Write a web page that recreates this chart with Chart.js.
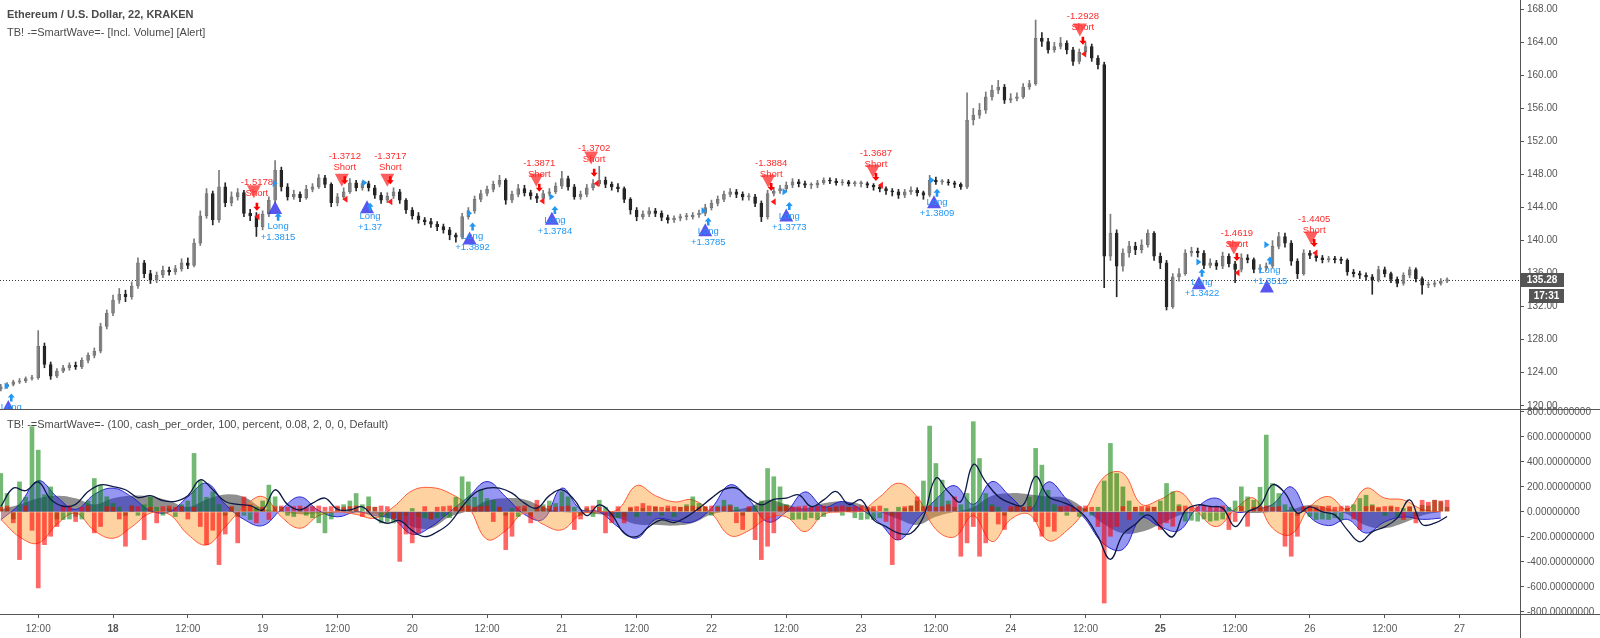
<!DOCTYPE html>
<html>
<head>
<meta charset="utf-8">
<title>ETHUSD SmartWave</title>
<script src="https://cdn.jsdelivr.net/npm/chart.js@4.4.1/dist/chart.umd.min.js"></script>
<style>
  html, body { margin: 0; padding: 0; background: #fff; }
  #wrap { position: relative; width: 1600px; height: 638px; overflow: hidden; }
  canvas { position: absolute; left: 0; }
  #priceCanvas { top: 0; }
  #waveCanvas { top: 398px; }
  .legend { position: absolute; left: 7px; font-size: 11px; font-family: "Liberation Sans", Arial, sans-serif; color: #4a4a4a; white-space: nowrap; line-height: 13px; }
</style>
</head>
<body>
<div id="wrap">
  <canvas id="priceCanvas" width="1600" height="420"></canvas>
  <canvas id="waveCanvas" width="1600" height="240"></canvas>
  <div class="legend" style="top:8px;font-weight:bold">Ethereum / U.S. Dollar, 22, KRAKEN</div>
  <div class="legend" style="top:26px">TB! -=SmartWave=- [Incl. Volume] [Alert]</div>
  <div class="legend" style="top:418px">TB! -=SmartWave=- (100, cash_per_order, 100, percent, 0.08, 2, 0, 0, Default)</div>
</div>
<script>
// hours are counted from 17 Apr 00:00, one candle per hour
const startHour = 6
const firstOpen = 122.0
const closes = [
  122.3,122.6,122.9,123.0,123.3,123.4,127.2,125.0,123.6,124.2,124.6,124.9,
  124.7,125.5,126.1,126.6,129.6,131.2,132.8,133.5,133.2,134.5,137.3,136.0,
  135.2,135.8,136.4,136.2,136.6,137.3,137.0,139.7,143.0,145.7,142.5,146.5,
  144.6,145.3,145.8,143.3,143.0,141.7,143.2,144.9,148.5,146.5,145.3,145.6,
  145.2,146.2,146.5,147.6,146.8,144.6,145.3,145.9,147.0,146.4,146.9,146.4,
  145.5,144.9,145.4,145.9,144.9,143.7,143.0,142.5,142.3,142.0,141.7,141.3,
  140.7,140.4,142.9,143.6,145.0,145.7,146.2,146.8,147.3,144.9,145.6,146.3,
  145.8,145.4,145.1,145.7,145.9,146.6,147.5,146.5,145.3,145.6,146.4,146.9,
  147.3,146.8,146.5,146.3,145.0,143.7,142.9,143.2,143.6,143.3,142.8,142.5,
  142.7,142.9,142.9,143.1,143.3,144.0,144.5,145.0,145.6,145.9,145.6,145.3,
  145.3,144.5,142.9,145.7,146.0,146.3,146.7,147.1,146.9,146.7,146.7,147.0,
  147.3,147.2,147.0,147.1,146.9,146.9,146.9,146.7,146.5,146.3,146.0,145.9,
  145.5,145.9,146.1,145.8,145.5,147.3,147.1,147.1,147.0,146.8,146.5,154.6,
  155.2,155.8,157.4,158.2,158.6,157.0,157.2,157.4,158.6,159.0,164.5,164.1,
  163.1,163.5,163.9,163.1,161.7,162.8,163.5,162.1,161.3,138.1,140.9,136.9,
  138.5,139.3,138.9,139.5,140.9,138.1,137.3,132.0,135.6,136.0,138.5,138.7,
  138.5,137.0,137.3,136.9,138.1,137.2,136.5,137.9,137.7,136.5,136.7,136.9,
  139.3,140.5,139.7,137.5,136.0,138.5,138.2,137.9,137.7,137.8,137.7,137.6,
  136.2,136.0,135.8,135.6,135.2,136.5,136.0,135.3,134.8,135.8,136.5,135.4,
  134.6,134.7,134.8,135.1,135.28
]
const highs = [
  122.6,122.8,123.1,123.3,123.5,123.7,129.1,127.6,125.3,124.5,124.9,125.2,
  125.3,125.8,126.4,127.0,130.0,131.6,133.4,134.2,134.0,135.0,137.9,137.6,
  136.4,136.2,136.9,136.8,137.0,137.8,137.9,140.2,143.6,146.3,146.0,148.5,
  147.0,145.9,146.3,146.1,143.8,143.4,143.6,145.3,149.7,148.9,146.9,146.1,
  145.9,146.7,146.9,148.0,147.9,147.0,145.7,146.4,147.5,147.3,147.2,147.2,
  146.7,145.8,145.8,146.4,146.2,145.1,144.0,143.4,142.8,142.7,142.3,142.0,
  141.6,140.9,143.3,144.0,145.4,146.1,146.6,147.2,147.9,147.5,146.0,146.8,
  146.7,146.1,145.7,146.1,146.3,147.0,148.4,147.8,146.8,146.0,146.8,147.4,
  149.0,147.7,147.1,146.9,146.5,145.2,144.0,143.6,144.0,143.9,143.6,143.1,
  143.0,143.2,143.3,143.4,143.7,144.4,144.9,145.4,146.0,146.3,146.2,145.9,
  145.7,145.6,144.8,146.1,146.4,146.7,147.1,147.5,147.4,147.2,147.0,147.3,
  147.6,147.6,147.5,147.4,147.3,147.2,147.2,147.1,146.9,146.8,146.5,146.3,
  146.2,146.2,146.5,146.4,146.0,147.9,147.7,147.4,147.4,147.2,147.0,157.9,
  156.0,156.6,158.0,158.8,159.4,158.9,157.8,157.9,159.0,159.4,166.7,165.2,
  164.5,164.0,164.6,164.2,163.4,163.2,164.0,163.8,162.4,161.6,143.2,141.3,
  139.0,139.9,139.8,140.1,141.3,141.1,138.5,137.6,136.0,136.6,138.9,139.2,
  139.1,138.8,137.8,137.6,138.6,138.4,137.5,138.4,138.3,137.9,137.1,137.3,
  140.0,141.0,140.9,140.0,137.8,138.9,138.8,138.5,138.2,138.1,138.1,138.0,
  137.8,136.5,136.3,136.1,135.9,136.9,136.8,136.2,135.6,136.1,136.8,136.7,
  135.6,135.0,135.1,135.4,135.5
]
const lows = [
  121.8,122.1,122.4,122.7,122.8,123.1,123.2,124.6,123.2,123.4,124.0,124.3,
  124.4,124.5,125.2,125.8,126.4,129.3,130.9,132.4,132.6,132.9,134.2,135.5,
  134.8,134.9,135.5,135.8,135.9,136.3,136.6,136.8,139.4,142.7,141.9,142.2,
  144.1,144.2,144.9,142.9,142.4,140.5,141.3,142.9,144.6,146.0,144.9,145.0,
  144.7,145.0,145.9,146.3,146.4,144.1,144.2,145.0,145.7,146.0,146.1,146.0,
  145.1,144.5,144.6,145.1,144.5,143.3,142.6,142.1,141.9,141.6,141.2,140.9,
  140.1,139.8,140.2,142.6,143.3,144.7,145.4,145.9,146.5,144.4,144.6,145.3,
  145.4,145.0,144.6,144.9,145.4,145.7,146.3,146.1,145.0,145.0,145.3,146.1,
  146.6,146.4,146.1,145.9,144.6,143.2,142.4,142.6,142.9,142.9,142.4,142.1,
  142.2,142.4,142.5,142.6,142.8,143.0,143.7,144.2,144.7,145.3,145.2,144.9,
  144.9,144.1,142.3,142.6,145.4,145.7,146.0,146.4,146.5,146.4,146.3,146.4,
  146.8,146.9,146.7,146.7,146.6,146.6,146.5,146.4,146.1,145.9,145.6,145.4,
  145.1,145.2,145.6,145.4,145.0,145.3,146.8,146.8,146.7,146.4,146.2,146.3,
  154.0,154.8,155.4,157.0,157.8,156.6,156.7,156.9,157.2,158.3,158.8,163.5,
  162.7,162.8,163.2,162.6,161.2,161.4,162.5,161.7,160.8,134.3,137.6,133.2,
  136.3,138.0,138.3,138.5,139.2,137.6,136.6,131.6,131.8,135.1,135.8,138.1,
  138.0,136.6,136.7,136.5,136.6,136.8,134.9,136.2,137.3,136.1,136.1,136.4,
  136.7,139.0,139.2,137.0,135.4,135.8,137.8,137.5,137.3,137.4,137.3,137.2,
  135.8,135.6,135.4,135.2,133.5,135.0,135.6,134.9,134.4,134.6,135.5,135.0,
  133.5,134.3,134.4,134.6,134.9
]
const countdown = '17:31'

// strategy signals: hour, triangle price, arrow price, label
const longT = [7.2, 50.0, 64.75, 81.2, 94.4, 119.0, 132.0, 155.7, 198.2, 209.1]
const longTriP = [119.9, 144.0, 144.1, 140.3, 142.7, 141.3, 143.1, 144.7, 134.9, 134.5]
const longArrowP = [121.0, 142.9, 144.1, 141.7, 143.7, 142.3, 144.2, 145.8, 136.1, 137.6]
const longLabels = ['', '+1.3815', '+1.37', '+1.3892', '+1.3784', '+1.3785', '+1.3773', '+1.3809', '+1.3422', '+1.3515']
const longMarkT = [7.0, 50.0, 64.4, 81.2, 94.4, 118.8, 131.8, 155.4, 198.2, 209.1]
const longMarkP = [122.4, 146.9, 147.0, 143.3, 145.3, 143.6, 145.9, 147.3, 137.4, 139.5]

const shortT = [46.6, 60.7, 68.0, 91.9, 100.7, 129.1, 145.9, 179.1, 203.8, 216.2]
const shortTriP = [145.9, 147.3, 147.3, 147.3, 150.0, 147.2, 148.4, 165.5, 139.1, 140.3]
const shortArrowP = [144.1, 147.3, 147.3, 146.4, 148.2, 146.5, 147.7, 164.2, 138.0, 139.7]
const shortLabels = ['-1.5178', '-1.3712', '-1.3717', '-1.3871', '-1.3702', '-1.3884', '-1.3687', '-1.2928', '-1.4619', '-1.4405']
const shortMarkT = [47.1, 61.2, 68.4, 92.8, 101.5, 129.9, 147.1, 179.7, 204.3, 216.8]
const shortMarkP = [142.9, 145.0, 144.7, 144.8, 146.9, 144.7, 146.7, 162.6, 136.1, 138.5]

// SmartWave pane, histograms hourly
const greenHist = [
  310,150,-60,243,120,685,497,140,203,-60,-64,-60,
  -40,-60,90,270,217,123,70,40,-30,50,-30,60,
  123,40,-30,30,-40,60,90,471,257,120,163,60,
  -30,40,-40,-30,-64,40,90,217,123,40,-30,-40,
  30,-30,-50,-90,-171,-60,40,60,90,150,60,123,
  40,-91,-80,-91,-60,-30,30,-40,-50,-60,-50,-40,
  -50,120,284,243,120,176,110,96,40,-30,30,-40,
  30,-30,40,60,90,70,163,123,40,-30,30,-40,
  96,40,-40,-50,-40,30,-40,30,-30,40,-30,30,
  -40,40,60,123,70,40,-30,50,96,60,40,-30,
  30,50,90,350,284,203,60,-64,-60,-64,-50,-64,
  -40,30,40,-30,40,-50,-64,-60,-64,-50,30,-30,
  40,30,50,90,250,690,390,257,90,40,60,150,
  725,430,150,60,40,-30,30,50,40,120,511,377,
  176,60,40,-30,30,-40,30,-30,40,250,551,310,
  203,90,40,-30,30,40,90,230,163,60,-77,-70,
  -77,-60,-77,-70,-60,40,90,203,123,96,200,618,
  230,150,60,40,-30,30,-40,-64,-60,-64,-50,-64,
  30,60,110,136,60,30,-30,40,-40,30,40,-30,
  56,50,96,83,40
]
const redHist = [
  40,50,-90,-385,50,-150,-612,-265,-198,-120,45,50,
  -80,40,50,-171,-120,45,40,-60,-278,50,45,-225,
  40,-91,45,50,40,45,-60,40,-120,-265,-150,-425,
  -180,45,-251,123,60,-91,40,-64,45,50,40,45,
  50,40,45,50,40,45,50,40,45,50,-40,45,
  40,50,45,-60,-399,-180,-251,-171,45,-60,40,45,
  50,40,45,50,40,45,50,-80,40,-305,-198,45,
  50,-91,96,45,50,40,45,50,-144,-60,45,50,
  40,-171,-90,45,-91,40,45,70,50,45,40,50,
  45,40,45,50,40,45,50,40,45,50,-90,-144,
  45,-225,-385,-278,-171,45,50,40,45,50,40,45,
  50,40,45,50,40,45,50,40,45,50,-80,-425,
  -225,45,50,123,45,50,40,45,60,123,-358,-251,
  -120,-358,-251,45,-100,-144,45,50,40,45,-80,-198,
  -120,-158,45,50,40,45,50,40,-120,-733,-198,-120,
  45,-64,40,45,50,40,-144,-90,-118,45,50,40,
  45,50,40,45,50,-144,-80,45,-118,40,45,50,
  40,45,-278,-358,-198,45,50,40,45,50,40,45,
  50,-60,-144,45,50,40,45,50,40,-64,45,-91,
  96,80,96,90,96
]
// waves every 3 hours, signal line every 2 hours
const waveStep = 3
const blueWave = [
  -64,60,250,120,20,140,190,120,10,0,
  120,230,60,-60,-110,20,120,10,-40,0,
  -30,-60,-180,-120,0,120,243,120,-20,-60,
  190,20,0,-120,-211,-60,-70,-80,30,217,
  100,-80,0,160,40,83,20,-90,-225,-60,
  100,210,60,243,120,10,240,100,-60,-260,
  -300,-50,-120,-150,40,110,0,20,60,200,
  -40,-110,-60,-170,-80,-40,-60,-50
]
const orangeWave = [
  -60,-200,-251,-100,-10,-150,-211,-120,-10,-20,
  -180,-265,-120,40,123,-40,-131,-30,0,-20,
  -50,40,170,195,150,40,-220,-150,-10,-100,
  -144,-20,0,20,211,130,80,96,-10,-190,
  -150,-50,-40,-158,-20,0,10,120,230,120,
  -140,-200,-30,-238,-60,-20,-230,-150,20,280,
  310,60,100,163,0,-118,20,110,-130,-180,
  40,123,20,190,110,96,20,0
]
const grayWave = [
  20,60,110,130,110,60,110,130,123,90,
  40,100,140,120,30,0,-20,-10,0,10,
  -20,-50,-120,-131,-40,10,90,110,100,40,
  0,-10,-20,-50,-100,-104,-110,-90,-20,10,
  40,96,60,30,70,83,60,0,-60,-104,
  -40,0,40,130,150,140,123,110,20,-100,
  -171,-160,-100,-30,0,10,0,-10,0,20,
  56,30,-20,-110,-131,-90,-30,0
]
const lineStep = 2
const signalLine = [
  43,190,170,240,100,45,60,163,217,203,
  177,115,130,90,85,130,257,177,83,60,
  50,16,177,60,16,70,110,20,16,40,
  -50,-91,-70,-150,-198,-160,-90,40,150,190,
  190,150,70,30,130,177,96,-30,56,-20,
  -171,-198,-118,-64,-85,-40,30,110,180,190,
  110,56,100,110,136,43,96,163,60,96,
  -64,-118,-171,-171,-40,270,160,83,380,240,
  123,70,55,284,123,83,40,-40,-198,-380,
  -180,-100,-24,-118,-198,10,56,43,30,-118,
  0,50,217,150,-11,40,0,-24,-144,-240,
  -160,-120,-50,96,-100,-91,-37
]

const priceTicks = [120,124,128,132,136,140,144,148,152,156,160,164,168]
const waveTicks = [-800,-600,-400,-200,0,200,400,600,800]
const xTickHours = [12,24,36,48,60,72,84,96,108,120,132,144,156,168,180,192,204,216,228,240]
const xTickLabels = ['12:00','18','12:00','19','12:00','20','12:00','21','12:00','22','12:00','23','12:00','24','12:00','25','12:00','26','12:00','27']
const boldLabels = ['18', '25']

const xMin = 5.87, xMax = 249.7
const font = '"Liberation Sans", Arial, sans-serif'
Chart.defaults.font.family = font

const hours = closes.map((c, i) => startHour + i)
const opens = closes.map((c, i) => i === 0 ? firstOpen : closes[i - 1])
const isUp = closes.map((c, i) => c >= opens[i])
const wickCols = isUp.map(u => u ? '#7a7a7a' : '#262626')
const bodyFill = isUp.map(u => u ? '#c9c9c9' : '#2a2a2a')
const bodyEdge = isUp.map(u => u ? '#6e6e6e' : '#222')

function tri(ctx, cx, cy, dir, w, h, col) {
  ctx.fillStyle = col
  ctx.beginPath()
  if (dir === 'up') { ctx.moveTo(cx, cy - h / 2); ctx.lineTo(cx + w / 2, cy + h / 2); ctx.lineTo(cx - w / 2, cy + h / 2) }
  else if (dir === 'down') { ctx.moveTo(cx, cy + h / 2); ctx.lineTo(cx + w / 2, cy - h / 2); ctx.lineTo(cx - w / 2, cy - h / 2) }
  else if (dir === 'right') { ctx.moveTo(cx + w / 2, cy); ctx.lineTo(cx - w / 2, cy - h / 2); ctx.lineTo(cx - w / 2, cy + h / 2) }
  else { ctx.moveTo(cx - w / 2, cy); ctx.lineTo(cx + w / 2, cy - h / 2); ctx.lineTo(cx + w / 2, cy + h / 2) }
  ctx.closePath()
  ctx.fill()
}

function arrow(ctx, cx, cy, up, col) {
  const s = up ? 1 : -1
  ctx.fillStyle = col
  ctx.beginPath()
  ctx.moveTo(cx, cy - 4 * s)
  ctx.lineTo(cx + 3.5, cy)
  ctx.lineTo(cx + 1.3, cy)
  ctx.lineTo(cx + 1.3, cy + 4 * s)
  ctx.lineTo(cx - 1.3, cy + 4 * s)
  ctx.lineTo(cx - 1.3, cy)
  ctx.lineTo(cx - 3.5, cy)
  ctx.closePath()
  ctx.fill()
}

const signalPlugin = {
  id: 'signals',
  afterDatasetsDraw(chart) {
    const { ctx, chartArea: a, scales: { x, y } } = chart
    ctx.save()
    ctx.beginPath()
    ctx.rect(a.left, a.top, a.width, a.height)
    ctx.clip()
    longMarkT.forEach((t, i) => tri(ctx, x.getPixelForValue(t), y.getPixelForValue(longMarkP[i]), 'right', 5, 7, '#2196f3'))
    shortMarkT.forEach((t, i) => tri(ctx, x.getPixelForValue(t), y.getPixelForValue(shortMarkP[i]), 'left', 5, 7, '#ff1a1a'))
    ctx.font = '9.5px ' + font
    ctx.textAlign = 'center'
    ctx.textBaseline = 'middle'
    longT.forEach((t, i) => {
      const px = x.getPixelForValue(t)
      tri(ctx, px, y.getPixelForValue(longTriP[i]), 'up', 14, 13, 'rgba(45,45,235,0.8)')
      const ay = y.getPixelForValue(longArrowP[i])
      arrow(ctx, px + 3, ay, true, '#2196f3')
      ctx.fillStyle = '#2196f3'
      ctx.fillText('Long', px + 3, ay + 10)
      ctx.fillText(longLabels[i], px + 3, ay + 21)
    })
    shortT.forEach((t, i) => {
      const px = x.getPixelForValue(t)
      tri(ctx, px, y.getPixelForValue(shortTriP[i]), 'down', 14, 13, 'rgba(255,40,40,0.75)')
      const ay = y.getPixelForValue(shortArrowP[i])
      arrow(ctx, px + 3, ay, false, '#ff0000')
      ctx.fillStyle = '#ff2a2a'
      ctx.fillText('Short', px + 3, ay - 13)
      ctx.fillText(shortLabels[i], px + 3, ay - 24)
    })
    ctx.restore()
  }
}

const lastPricePlugin = {
  id: 'lastPrice',
  beforeDatasetsDraw(chart) {
    const { ctx, chartArea: a, scales: { y } } = chart
    const py = Math.round(y.getPixelForValue(closes[closes.length - 1])) + 0.5
    ctx.save()
    ctx.strokeStyle = '#3a3a3a'
    ctx.lineWidth = 1
    ctx.setLineDash([1, 2])
    ctx.beginPath()
    ctx.moveTo(a.left, py)
    ctx.lineTo(a.right, py)
    ctx.stroke()
    ctx.restore()
  },
  afterDraw(chart) {
    const { ctx, chartArea: a, scales: { y } } = chart
    const last = closes[closes.length - 1]
    const py = Math.round(y.getPixelForValue(last))
    ctx.save()
    ctx.strokeStyle = '#555'
    ctx.lineWidth = 1
    ctx.beginPath()
    ctx.moveTo(a.right + 0.5, 0)
    ctx.lineTo(a.right + 0.5, a.bottom)
    ctx.stroke()
    ctx.fillStyle = '#555'
    ctx.fillRect(a.right, py - 7, 44, 14)
    ctx.fillRect(a.right + 9, py + 9, 35, 14)
    ctx.fillStyle = '#fff'
    ctx.font = 'bold 10px ' + font
    ctx.textAlign = 'center'
    ctx.textBaseline = 'middle'
    ctx.fillText(last.toFixed(2), a.right + 22, py)
    ctx.fillText(countdown, a.right + 26.5, py + 16)
    ctx.restore()
  }
}

const paneFrame = {
  id: 'paneFrame',
  afterDraw(chart) {
    const { ctx, chartArea: a, width, height } = chart
    ctx.save()
    ctx.strokeStyle = '#555'
    ctx.lineWidth = 1
    ctx.beginPath()
    ctx.moveTo(0, a.top + 0.5); ctx.lineTo(width, a.top + 0.5)
    ctx.moveTo(0, a.bottom + 0.5); ctx.lineTo(width, a.bottom + 0.5)
    ctx.moveTo(a.right + 0.5, a.top); ctx.lineTo(a.right + 0.5, height)
    ctx.stroke()
    ctx.restore()
  }
}

function rightAxis(min, max, ticks, decimals) {
  return {
    position: 'right', min: min, max: max,
    grid: { drawOnChartArea: false, tickLength: 4, color: '#555' },
    border: { display: false },
    ticks: { autoSkip: false, padding: 3, color: '#555', font: { size: 10 }, callback: v => v.toFixed(decimals) },
    afterBuildTicks(s) { s.ticks = ticks.map(v => ({ value: v })) },
    afterFit(s) { s.width = 80; s.paddingTop = 0; s.paddingBottom = 0 }
  }
}

new Chart(document.getElementById('priceCanvas'), {
  type: 'bar',
  data: {
    datasets: [
      { data: hours.map((h, i) => ({ x: h, y: [lows[i], highs[i]] })), backgroundColor: wickCols, barThickness: 1, grouped: false },
      { data: hours.map((h, i) => ({ x: h, y: [opens[i], closes[i]] })), backgroundColor: bodyFill, borderColor: bodyEdge, borderWidth: 1, borderSkipped: false, barThickness: 3, minBarLength: 1, grouped: false }
    ]
  },
  options: {
    responsive: false, animation: false, devicePixelRatio: 1,
    layout: { padding: { left: 0, right: 0, top: 0, bottom: 11 } },
    plugins: { legend: { display: false }, tooltip: { enabled: false } },
    scales: {
      x: { type: 'linear', min: xMin, max: xMax, offset: false, display: false },
      y: rightAxis(119.61, 169.13, priceTicks, 2)
    }
  },
  plugins: [lastPricePlugin, signalPlugin]
})

const histData = arr => arr.map((v, i) => ({ x: startHour + i, y: v }))
const waveData = (arr, step) => arr.map((v, i) => ({ x: startHour + i * step, y: v }))

new Chart(document.getElementById('waveCanvas'), {
  type: 'bar',
  data: {
    datasets: [
      { type: 'line', data: waveData(signalLine, lineStep), borderColor: '#0c1845', borderWidth: 1.3, pointRadius: 0, tension: 0.4, fill: false, order: 0 },
      { type: 'bar', data: histData(redHist), backgroundColor: 'rgba(255,0,0,0.6)', barPercentage: 0.75, categoryPercentage: 1, grouped: false, order: 1 },
      { type: 'bar', data: histData(greenHist), backgroundColor: 'rgba(0,128,0,0.55)', barPercentage: 0.75, categoryPercentage: 1, grouped: false, order: 2 },
      { type: 'line', data: waveData(orangeWave, waveStep), backgroundColor: 'rgba(255,150,30,0.42)', borderColor: '#ff5a36', borderWidth: 1, pointRadius: 0, tension: 0.4, fill: 'origin', order: 3 },
      { type: 'line', data: waveData(blueWave, waveStep), backgroundColor: 'rgba(35,35,230,0.48)', borderColor: 'rgba(25,25,200,0.9)', borderWidth: 1, pointRadius: 0, tension: 0.4, fill: 'origin', order: 4 },
      { type: 'line', data: waveData(grayWave, waveStep), backgroundColor: 'rgba(115,115,115,0.8)', borderWidth: 0, pointRadius: 0, tension: 0.4, fill: 'origin', order: 5 }
    ]
  },
  options: {
    responsive: false, animation: false, devicePixelRatio: 1,
    layout: { padding: { left: 0, right: 0, top: 11, bottom: 0 } },
    plugins: { legend: { display: false }, tooltip: { enabled: false } },
    scales: {
      x: {
        type: 'linear', min: xMin, max: xMax, offset: false,
        grid: { drawOnChartArea: false, tickLength: 4, color: '#555', offset: false },
        border: { display: false },
        ticks: {
          autoSkip: false, maxRotation: 0, padding: 5, color: '#555',
          font: c => ({ size: 10, weight: boldLabels.includes(xTickLabels[c.index]) ? 'bold' : 'normal' }),
          callback: (v, i) => xTickLabels[i]
        },
        afterBuildTicks(s) { s.ticks = xTickHours.map(v => ({ value: v })) },
        afterFit(s) { s.height = 24; s.paddingLeft = 0; s.paddingRight = 0 }
      },
      y: rightAxis(-818, 824, waveTicks, 8)
    }
  },
  plugins: [paneFrame]
})
</script>
</body>
</html>
